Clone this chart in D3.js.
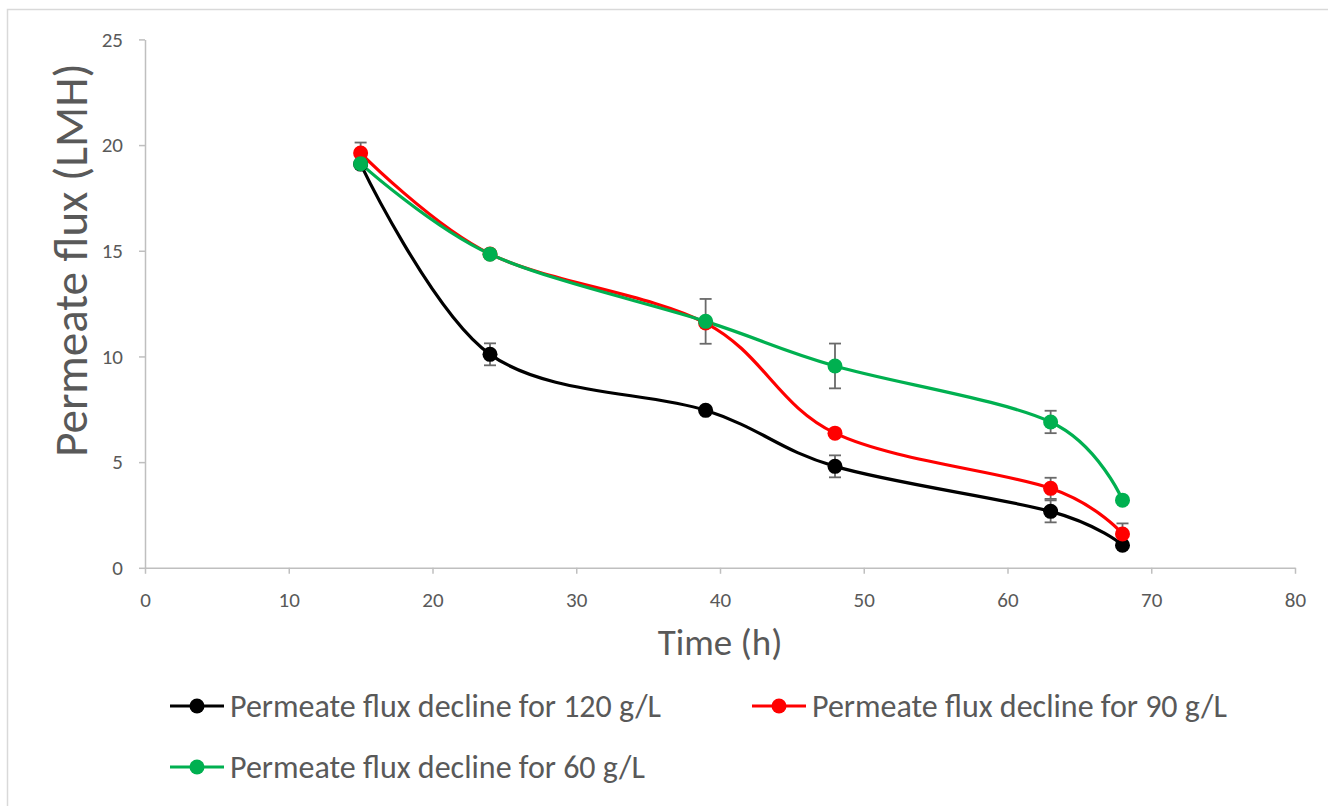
<!DOCTYPE html>
<html>
<head>
<meta charset="utf-8">
<script src="https://cdn.jsdelivr.net/npm/d3@7"></script>
<style>
  html, body { margin: 0; padding: 0; background: #fff; }
  svg { display: block; font-family: Carlito, Calibri, Lato, sans-serif; }
</style>
</head>
<body>
<script>
// Permeate flux over time at three feed concentrations (mean ± error)
const timeH = [15, 24, 39, 48, 63, 68];

const flux120 = [19.1, 10.1, 7.45, 4.8, 2.67, 1.07];
const err120  = [0, 0.52, 0, 0.52, 0.52, 0];

const flux90  = [19.62, 14.85, 11.58, 6.37, 3.76, 1.6];
const err90   = [0.5, 0, 0, 0, 0.5, 0.5];

const flux60  = [19.12, 14.84, 11.66, 9.55, 6.9, 3.2];
const err60   = [0, 0, 1.06, 1.06, 0.53, 0];

const seriesNames = [
  "Permeate flux decline for 120 g/L",
  "Permeate flux decline for 90 g/L",
  "Permeate flux decline for 60 g/L"
];
const seriesColors = ["#000000", "#ff0000", "#00b050"];

const xTicks = [0, 10, 20, 30, 40, 50, 60, 70, 80];
const yTicks = [0, 5, 10, 15, 20, 25];

const series = [
  { name: seriesNames[0], color: seriesColors[0], values: flux120, errs: err120 },
  { name: seriesNames[1], color: seriesColors[1], values: flux90,  errs: err90 },
  { name: seriesNames[2], color: seriesColors[2], values: flux60,  errs: err60 }
];

const W = 1328, H = 806;
const plot = { left: 145, right: 1295, top: 39.4, bottom: 567.8 };
const textColor = "#595959";
const axisColor = "#bfbfbf";

const svg = d3.select("body").append("svg")
  .attr("width", W).attr("height", H);

svg.append("rect").attr("width", W).attr("height", H).attr("fill", "#fff");

// chart frame
svg.append("rect")
  .attr("x", 7.5).attr("y", 9.5)
  .attr("width", W + 20).attr("height", H + 20)
  .attr("fill", "none").attr("stroke", "#d9d9d9").attr("stroke-width", 1.5);

const x = d3.scaleLinear().domain([0, 80]).range([plot.left, plot.right]);
const y = d3.scaleLinear().domain([0, 25]).range([plot.bottom, plot.top]);

// axes
const xAxis = svg.append("g")
  .attr("transform", `translate(0,${plot.bottom})`)
  .call(d3.axisBottom(x).tickValues(xTicks).tickSize(6).tickSizeOuter(0).tickPadding(18));
const yAxis = svg.append("g")
  .attr("transform", `translate(${plot.left},0)`)
  .call(d3.axisLeft(y).tickValues(yTicks).tickSize(6).tickSizeOuter(0).tickPadding(16));

[xAxis, yAxis].forEach(g => {
  g.select(".domain").attr("stroke", axisColor).attr("stroke-width", 1.5);
  g.selectAll(".tick line").attr("stroke", axisColor).attr("stroke-width", 1.5);
  g.selectAll(".tick text")
    .attr("fill", textColor)
    .style("font-size", "21px")
    .style("font-family", "Carlito, Calibri, Lato, sans-serif");
});

// axis titles
svg.append("text")
  .attr("x", (plot.left + plot.right) / 2).attr("y", 655)
  .attr("text-anchor", "middle")
  .attr("fill", textColor)
  .style("font-size", "37px")
  .text("Time (h)");

svg.append("text")
  .attr("transform", "translate(87,260) rotate(-90)")
  .attr("text-anchor", "middle")
  .attr("fill", textColor)
  .style("font-size", "47px")
  .text("Permeate flux (LMH)");

// smoothed lines
const line = d3.line()
  .x((d, i) => x(timeH[i]))
  .y(d => y(d))
  .curve(d3.curveCardinal.tension(0));

const plotG = svg.append("g");

series.forEach(s => {
  plotG.append("path")
    .datum(s.values)
    .attr("d", line)
    .attr("fill", "none")
    .attr("stroke", s.color)
    .attr("stroke-width", 3.2)
    .attr("stroke-linejoin", "round");
});

// error bars
const errColor = "#6a6a6a";
series.forEach(s => {
  const g = plotG.append("g");
  s.values.forEach((v, i) => {
    const e = s.errs[i];
    if (!e) return;
    const cx = x(timeH[i]);
    const y1 = y(v + e), y2 = y(v - e);
    g.append("line").attr("x1", cx).attr("x2", cx).attr("y1", y1).attr("y2", y2)
      .attr("stroke", errColor).attr("stroke-width", 1.8);
    [y1, y2].forEach(yy => {
      g.append("line").attr("x1", cx - 6).attr("x2", cx + 6).attr("y1", yy).attr("y2", yy)
        .attr("stroke", errColor).attr("stroke-width", 1.8);
    });
  });
});

// markers
series.forEach(s => {
  plotG.append("g").selectAll("circle")
    .data(s.values)
    .join("circle")
    .attr("cx", (d, i) => x(timeH[i]))
    .attr("cy", d => y(d))
    .attr("r", 7.5)
    .attr("fill", s.color);
});

// legend
const legendPos = [
  { lx: 170, ly: 706 },
  { lx: 752, ly: 706 },
  { lx: 170, ly: 767 }
];
series.forEach((s, i) => {
  const p = legendPos[i];
  const g = svg.append("g").attr("transform", `translate(${p.lx},${p.ly})`);
  g.append("line").attr("x1", 0).attr("x2", 54).attr("y1", 0).attr("y2", 0)
    .attr("stroke", s.color).attr("stroke-width", 3.2);
  g.append("circle").attr("cx", 27).attr("cy", 0).attr("r", 7.5).attr("fill", s.color);
  g.append("text")
    .attr("x", 60).attr("y", 11)
    .attr("fill", textColor)
    .style("font-size", "32px")
    .text(s.name);
});
</script>
</body>
</html>
